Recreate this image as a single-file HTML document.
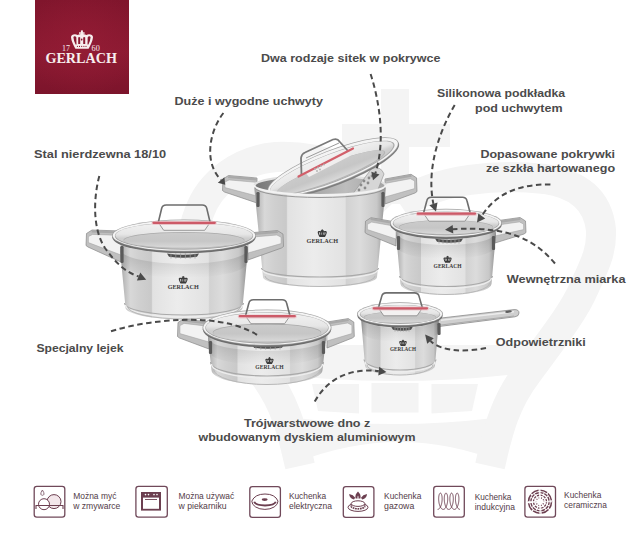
<!DOCTYPE html>
<html><head><meta charset="utf-8">
<style>
html,body{margin:0;padding:0;background:#fff;width:644px;height:540px;overflow:hidden}
svg{display:block}
.t{font-family:"Liberation Sans",sans-serif;font-weight:bold;font-size:11.5px;fill:#4b4b4b}
.s{font-family:"Liberation Sans",sans-serif;font-size:8.2px;fill:#523b47}
.lg{font-family:"Liberation Serif",serif;font-weight:bold;fill:#3a3a3a}
</style></head><body>
<svg width="644" height="540" viewBox="0 0 644 540">
<defs>
<linearGradient id="logoG" x1="0" y1="0" x2="0" y2="1">
<stop offset="0" stop-color="#80152c"/><stop offset="0.55" stop-color="#8c1a32"/><stop offset="1" stop-color="#7c142b"/>
</linearGradient>
<radialGradient id="logoR" cx="0.5" cy="0.45" r="0.6">
<stop offset="0" stop-color="#981d36" stop-opacity="0.6"/><stop offset="1" stop-color="#981d36" stop-opacity="0"/>
</radialGradient>
<linearGradient id="steel" x1="0" y1="0" x2="1" y2="0">
<stop offset="0" stop-color="#989898"/>
<stop offset="0.03" stop-color="#bababa"/>
<stop offset="0.08" stop-color="#d8d8d8"/>
<stop offset="0.15" stop-color="#d0d0d0"/>
<stop offset="0.245" stop-color="#c9c9c9"/>
<stop offset="0.255" stop-color="#e2e2e2"/>
<stop offset="0.45" stop-color="#ececec"/>
<stop offset="0.69" stop-color="#e2e2e2"/>
<stop offset="0.70" stop-color="#d2d2d2"/>
<stop offset="0.80" stop-color="#dcdcdc"/>
<stop offset="0.93" stop-color="#c8c8c8"/>
<stop offset="1" stop-color="#8e8e8e"/>
</linearGradient>
<linearGradient id="glass" x1="0" y1="0" x2="0" y2="1">
<stop offset="0" stop-color="#f2f2f2"/>
<stop offset="0.45" stop-color="#e6e6e6"/>
<stop offset="0.6" stop-color="#cfcfcf"/>
<stop offset="1" stop-color="#c4c4c4"/>
</linearGradient>
<linearGradient id="hnd" x1="0" y1="0" x2="0" y2="1">
<stop offset="0" stop-color="#d8d8d8"/>
<stop offset="0.5" stop-color="#eeeeee"/>
<stop offset="1" stop-color="#a8a8a8"/>
</linearGradient>
<linearGradient id="inner" x1="0" y1="0" x2="1" y2="0">
<stop offset="0" stop-color="#767676"/>
<stop offset="0.3" stop-color="#9a9a9a"/>
<stop offset="0.7" stop-color="#bdbdbd"/>
<stop offset="1" stop-color="#a4a4a4"/>
</linearGradient>
<linearGradient id="innerg" x1="0" y1="0" x2="0" y2="1">
<stop offset="0" stop-color="#cbcbcb"/><stop offset="0.55" stop-color="#c6c6c6"/><stop offset="1" stop-color="#d9d9d9"/>
</linearGradient>
<linearGradient id="topsh" x1="0" y1="0" x2="0" y2="1">
<stop offset="0" stop-color="#000" stop-opacity="0.16"/><stop offset="1" stop-color="#000" stop-opacity="0"/>
</linearGradient>
<marker id="ah" viewBox="0 0 10 10" refX="9" refY="5" markerWidth="4" markerHeight="4" orient="auto" markerUnits="strokeWidth">
<path d="M0,0 L10,5 L0,10 z" fill="#4a4a4a"/>
</marker>
</defs>
<rect width="644" height="540" fill="#fff"/>
<g fill="#f4f4f4">
<rect x="381" y="89" width="28" height="115"/>
<rect x="342" y="124" width="108" height="23"/>
<path d="M262,345 L528,345 L532,372 Q395,390 258,372 Z"/>
<path d="M312,384 L359,384 L359,413.5 L318,411 Z"/>
<path d="M371.5,383 L418.5,383 L418.5,412.5 L371.5,412.5 Z"/>
<path d="M431.5,384 L478,384 L472,411 L431.5,413.5 Z"/>
<path d="M296,418 Q395,430 494,418 L503,463 Q400,421 295,463 Z"/>
</g>
<g fill="none" stroke="#f4f4f4" stroke-linejoin="round">
<path d="M300,466 C292,430 285,402 262,372 C240,342 216,312 206,288 C194,262 188,240 199,213 C210,182 240,160 276,157 C322,155 362,172 392,204" stroke-width="30"/>
<path d="M490,466 C498,430 505,402 528,372 C550,342 574,312 584,288 C594,266 602,252 601,230 C598,200 578,184 545,179 C498,174 440,178 400,204" stroke-width="30"/>
</g>
<rect x="35" y="0" width="94" height="94" fill="url(#logoG)"/>
<rect x="35" y="0" width="94" height="94" fill="url(#logoR)"/>
<g fill="#f7eeee">
<text x="81.2" y="62.6" text-anchor="middle" font-family="Liberation Serif" font-weight="bold" font-size="14.2" textLength="71.5" lengthAdjust="spacingAndGlyphs">GERLACH</text>
<text x="62" y="50.6" font-family="Liberation Serif" font-size="7.6" textLength="8" lengthAdjust="spacingAndGlyphs">17</text>
<text x="91.6" y="50.6" font-family="Liberation Serif" font-size="7.6" textLength="8.2" lengthAdjust="spacingAndGlyphs">60</text>
<path d="M71,37.2 C70.8,34.6 75,33.6 77.6,35 C79.4,34 80.6,33.9 82,33.9 C83.4,33.9 84.6,34 86.4,35 C89,33.6 93.2,34.6 93,37.2 C92.8,41.2 90.2,45.4 88.6,48.8 L75.4,48.8 C73.8,45.4 71.2,41.2 71,37.2 Z"/>
<rect x="80.9" y="30.4" width="2" height="4.6"/><rect x="79" y="32.3" width="5.6" height="1.5"/>
<g fill="#8a1a33">
<path d="M73.4,37.2 Q73.8,36 75.2,36.3 L76.3,37.2 L76.5,44.6 L75.6,44.6 Q73.8,41 73.4,37.2 Z"/>
<path d="M78.2,44 L78.2,37.6 Q79.2,36.5 80.2,37.6 L80.2,44 Z"/>
<path d="M83.2,44 L83.2,37.6 Q84.2,36.5 85.2,37.6 L85.2,44 Z"/>
<path d="M90.6,37.2 Q90.2,36 88.8,36.3 L87.7,37.2 L87.5,44.6 L88.4,44.6 Q90.2,41 90.6,37.2 Z"/>
<ellipse cx="81.7" cy="39.6" rx="0.8" ry="1.1"/>
<circle cx="77.4" cy="46.4" r="0.55"/><circle cx="79.5" cy="46.4" r="0.55"/><circle cx="81.7" cy="46.4" r="0.55"/><circle cx="83.9" cy="46.4" r="0.55"/><circle cx="86" cy="46.4" r="0.55"/>
</g>
</g>
<path d="M257.0,178.0 L228.5,175.5 L223.0,179.0 L222.5,190.5 L224.5,192.0 L257.0,203.0 Z" fill="#c0c0c0" stroke="#888" stroke-width="0.7" stroke-linejoin="round"/><path d="M257.0,182.4 L229.1,179.9 L224.9,182.1 L224.9,187.6 L257.0,196.0 Z" fill="#f2f2f2" stroke="#9c9c9c" stroke-width="0.5" stroke-linejoin="round"/><path d="M257.0,178.4 L228.5,175.9 L227.9,177.9 L257.0,180.6 Z" fill="#a9a9a9"/><path d="M385.0,179.0 L411.0,174.3 L416.5,177.8 L417.0,191.5 L415.0,193.0 L385.0,204.0 Z" fill="#c0c0c0" stroke="#888" stroke-width="0.7" stroke-linejoin="round"/><path d="M385.0,183.4 L410.4,178.7 L414.6,180.9 L414.6,188.6 L385.0,197.0 Z" fill="#f2f2f2" stroke="#9c9c9c" stroke-width="0.5" stroke-linejoin="round"/><path d="M385.0,179.4 L411.0,174.7 L411.6,176.7 L385.0,181.6 Z" fill="#a9a9a9"/><ellipse cx="320" cy="185" rx="66.5" ry="10.5" fill="#e2e2e2"/><ellipse cx="320" cy="186" rx="64.5" ry="9.2" fill="url(#inner)"/><path d="M352,195 L372,168 Q381,166 384,174 L375,197 Z" fill="#d6d6d6" stroke="#999" stroke-width="0.7"/><circle cx="364" cy="181" r="1.4" fill="#8a8a8a"/><circle cx="368" cy="183" r="1.4" fill="#8a8a8a"/><circle cx="361" cy="185" r="1.4" fill="#8a8a8a"/><circle cx="365" cy="188" r="1.4" fill="#8a8a8a"/><circle cx="359" cy="190" r="1.4" fill="#8a8a8a"/><circle cx="369" cy="178" r="1.4" fill="#8a8a8a"/><circle cx="372" cy="176" r="1.4" fill="#8a8a8a"/><g transform="translate(333,167) rotate(-21)"><ellipse cx="0" cy="1.5" rx="70" ry="17" fill="#7e7e7e"/><ellipse cx="0" cy="0" rx="70" ry="17" fill="#a0a0a0"/><ellipse cx="0" cy="0" rx="69.2" ry="16.3" fill="#f4f4f4"/><ellipse cx="-1" cy="0.6" rx="66.5" ry="14.2" fill="#a8a8a8"/><ellipse cx="-1.5" cy="0.4" rx="65.8" ry="13.5" fill="url(#glass)"/><ellipse cx="-4" cy="4.5" rx="58" ry="9.5" fill="#b4b4b4"/><ellipse cx="-4" cy="4" rx="57" ry="8.8" fill="url(#innerg)"/></g><path d="M303,170 L344,150 L350,156 L309,177 Z" fill="#f0eeee"/><path d="M301.5,175 L301,158 Q301.5,154 305,152.5 L333,139.5 Q337.5,138 339.5,141.5 L348,151" fill="none" stroke="#7a7a7a" stroke-width="1.8"/><path d="M306,158 L339,143" fill="none" stroke="#9a9a9a" stroke-width="1"/><line x1="298.5" y1="176.5" x2="353" y2="148.5" stroke="#d2606b" stroke-width="2.2" stroke-linecap="round"/><circle cx="315" cy="169" r="0.9" fill="#b0b0b0"/><circle cx="318" cy="167.5" r="0.9" fill="#b0b0b0"/><circle cx="321" cy="166" r="0.9" fill="#b0b0b0"/><circle cx="324" cy="164.5" r="0.9" fill="#b0b0b0"/><circle cx="317" cy="171" r="0.9" fill="#b0b0b0"/><circle cx="320" cy="169.5" r="0.9" fill="#b0b0b0"/><path d="M254,185 L263,277 A57,10 0 0 0 377,277 L386,185 A66,10 0 0 1 254,185 Z" fill="url(#steel)"/><path d="M254,185 A66,10 0 0 0 386,185" fill="none" stroke="#f2f2f2" stroke-width="2.2"/><path d="M255,187.5 A65,10 0 0 0 385,187.5" fill="none" stroke="#8f8f8f" stroke-width="0.9"/><path d="M261.5,268 A58.5,9 0 0 0 378.5,268" fill="none" stroke="#a9a9a9" stroke-width="1.1"/><path d="M262.5,270 A57.5,9 0 0 0 377.5,270" fill="none" stroke="#ededed" stroke-width="1.4"/><path d="M265,276 A55,10.5 0 0 0 375,276" fill="none" stroke="#b8b8b8" stroke-width="1"/><rect x="256.4" y="192.0" width="3.2" height="15.0" fill="#5a5a5a" rx="1.2"/><rect x="381.4" y="192.0" width="3.2" height="15.0" fill="#5a5a5a" rx="1.2"/><g transform="translate(288.31,216.77) scale(0.414)"><path d="M71,37.2 C70.8,34.6 75,33.6 77.6,35 C79.4,34 80.6,33.9 82,33.9 C83.4,33.9 84.6,34 86.4,35 C89,33.6 93.2,34.6 93,37.2 C92.8,41.2 90.2,45.4 88.6,48.8 L75.4,48.8 C73.8,45.4 71.2,41.2 71,37.2 Z" fill="#3a3a3a"/><rect x="80.6" y="30.4" width="2.8" height="4.6" fill="#3a3a3a"/><rect x="78.6" y="32" width="6.8" height="2" fill="#3a3a3a"/><g fill="#dcdcdc"><path d="M74,38 L76.4,37.6 L76.6,44 L75.8,44 Q74.2,41 74,38 Z"/><path d="M78.6,43.5 L78.6,38 L80.2,38 L80.2,43.5 Z"/><path d="M83.6,43.5 L83.6,38 L85.2,38 L85.2,43.5 Z"/><path d="M90,38 L87.6,37.6 L87.4,44 L88.2,44 Q89.8,41 90,38 Z"/></g></g><text class="lg" x="322.3" y="242.5" text-anchor="middle" font-size="6.63" textLength="31.5" lengthAdjust="spacingAndGlyphs" fill="#3a3a3a">GERLACH</text><path d="M121.0,231.0 L92.0,230.0 L86.5,233.5 L86.0,245.5 L88.0,247.0 L121.0,262.0 Z" fill="#c0c0c0" stroke="#888" stroke-width="0.7" stroke-linejoin="round"/><path d="M121.0,235.4 L92.6,234.4 L88.4,236.6 L88.4,242.6 L121.0,255.0 Z" fill="#f2f2f2" stroke="#9c9c9c" stroke-width="0.5" stroke-linejoin="round"/><path d="M121.0,231.4 L92.0,230.4 L91.4,232.4 L121.0,233.6 Z" fill="#a9a9a9"/><path d="M248.0,233.0 L277.5,230.6 L283.0,234.1 L283.5,246.5 L281.5,248.0 L248.0,260.0 Z" fill="#c0c0c0" stroke="#888" stroke-width="0.7" stroke-linejoin="round"/><path d="M248.0,237.4 L276.9,235.0 L281.1,237.2 L281.1,243.6 L248.0,253.0 Z" fill="#f2f2f2" stroke="#9c9c9c" stroke-width="0.5" stroke-linejoin="round"/><path d="M248.0,233.4 L277.5,231.0 L278.1,233.0 L248.0,235.6 Z" fill="#a9a9a9"/><path d="M120,249 L125.5,307.5 A58.5,12 0 0 0 242.5,307.5 L248,249 A64,15 0 0 0 120,249 Z" fill="url(#steel)"/><path d="M120,249 A64,15 0 0 0 248,249 L246.7,263 A62.7,15 0 0 1 121.3,263 Z" fill="url(#topsh)"/><path d="M124.5,303 A59.5,12 0 0 0 243.5,303" fill="none" stroke="#a9a9a9" stroke-width="1.1"/><path d="M125.5,305 A58.5,12 0 0 0 242.5,305" fill="none" stroke="#ededed" stroke-width="1.4"/><path d="M127.5,306.5 A56.5,12.5 0 0 0 240.5,306.5" fill="none" stroke="#b8b8b8" stroke-width="1"/><rect x="120.4" y="246.0" width="3.2" height="17.0" fill="#5a5a5a" rx="1.2"/><rect x="244.4" y="246.0" width="3.2" height="17.0" fill="#5a5a5a" rx="1.2"/><path d="M167.0,253.5 Q183,256.0 199.0,253.5 L197.0,256.7 Q183,258.7 169.0,256.7 Z" fill="#4e4e4e"/><line x1="171.0" y1="253.5" x2="171.0" y2="258.5" stroke="#9a9a9a" stroke-width="0.8"/><line x1="175.8" y1="253.5" x2="175.8" y2="258.5" stroke="#9a9a9a" stroke-width="0.8"/><line x1="180.6" y1="253.5" x2="180.6" y2="258.5" stroke="#9a9a9a" stroke-width="0.8"/><line x1="185.4" y1="253.5" x2="185.4" y2="258.5" stroke="#9a9a9a" stroke-width="0.8"/><line x1="190.2" y1="253.5" x2="190.2" y2="258.5" stroke="#9a9a9a" stroke-width="0.8"/><line x1="195.0" y1="253.5" x2="195.0" y2="258.5" stroke="#9a9a9a" stroke-width="0.8"/><ellipse cx="184" cy="237.3" rx="71.7" ry="16" fill="#6e6e6e"/><ellipse cx="184" cy="235.5" rx="72" ry="16" fill="#a0a0a0"/><ellipse cx="184" cy="235.5" rx="71.2" ry="15.3" fill="#f5f5f5"/><ellipse cx="184" cy="235.9" rx="69.2" ry="13.8" fill="#a6a6a6"/><ellipse cx="184" cy="235.6" rx="68.6" ry="13.1" fill="url(#glass)"/><ellipse cx="184" cy="240.0" rx="60.5" ry="8.0" fill="#a9a9a9"/><ellipse cx="184" cy="240.3" rx="60.1" ry="7.5" fill="url(#innerg)"/><path d="M159.2,223.8 L163.7,230.3 L204.7,230.3 L209.2,223.8 Z" fill="#f3f1f1" stroke="#8e8e8e" stroke-width="0.9"/><path d="M158.2,222.8 L161.7,208.2 Q162.39999999999998,205 166.2,205 L202.2,205 Q206.0,205 206.7,208.2 L210.2,222.8" fill="none" stroke="#6e6e6e" stroke-width="1.6"/><line x1="153.5" y1="223.10000000000002" x2="214.8" y2="223.10000000000002" stroke="#ecbcc2" stroke-width="4" stroke-linecap="round" opacity="0.7"/><line x1="153.5" y1="222.8" x2="214.8" y2="222.8" stroke="#cd5a68" stroke-width="2.2" stroke-linecap="round"/><g transform="translate(149.75,263.68) scale(0.408)"><path d="M71,37.2 C70.8,34.6 75,33.6 77.6,35 C79.4,34 80.6,33.9 82,33.9 C83.4,33.9 84.6,34 86.4,35 C89,33.6 93.2,34.6 93,37.2 C92.8,41.2 90.2,45.4 88.6,48.8 L75.4,48.8 C73.8,45.4 71.2,41.2 71,37.2 Z" fill="#3a3a3a"/><rect x="80.6" y="30.4" width="2.8" height="4.6" fill="#3a3a3a"/><rect x="78.6" y="32" width="6.8" height="2" fill="#3a3a3a"/><g fill="#dcdcdc"><path d="M74,38 L76.4,37.6 L76.6,44 L75.8,44 Q74.2,41 74,38 Z"/><path d="M78.6,43.5 L78.6,38 L80.2,38 L80.2,43.5 Z"/><path d="M83.6,43.5 L83.6,38 L85.2,38 L85.2,43.5 Z"/><path d="M90,38 L87.6,37.6 L87.4,44 L88.2,44 Q89.8,41 90,38 Z"/></g></g><text class="lg" x="183.2" y="289" text-anchor="middle" font-size="6.53" textLength="31" lengthAdjust="spacingAndGlyphs" fill="#3a3a3a">GERLACH</text><path d="M396.0,222.0 L371.0,217.7 L365.5,221.2 L365.0,232.5 L367.0,234.0 L396.0,246.0 Z" fill="#c0c0c0" stroke="#888" stroke-width="0.7" stroke-linejoin="round"/><path d="M396.0,226.4 L371.6,222.1 L367.4,224.3 L367.4,229.6 L396.0,239.0 Z" fill="#f2f2f2" stroke="#9c9c9c" stroke-width="0.5" stroke-linejoin="round"/><path d="M396.0,222.4 L371.0,218.1 L370.4,220.1 L396.0,224.6 Z" fill="#a9a9a9"/><path d="M495.0,221.0 L520.0,217.5 L525.5,221.0 L526.0,232.5 L524.0,234.0 L495.0,243.0 Z" fill="#c0c0c0" stroke="#888" stroke-width="0.7" stroke-linejoin="round"/><path d="M495.0,225.4 L519.4,221.9 L523.6,224.1 L523.6,229.6 L495.0,236.0 Z" fill="#f2f2f2" stroke="#9c9c9c" stroke-width="0.5" stroke-linejoin="round"/><path d="M495.0,221.4 L520.0,217.9 L520.6,219.9 L495.0,223.6 Z" fill="#a9a9a9"/><path d="M396,233 L400.5,284 A45.5,11 0 0 0 491.5,284 L496,233 A50,12 0 0 0 396,233 Z" fill="url(#steel)"/><path d="M396,233 A50,12 0 0 0 496,233 L494.8,247 A48.8,12 0 0 1 397.2,247 Z" fill="url(#topsh)"/><path d="M399.5,276 A46.5,10.5 0 0 0 492.5,276" fill="none" stroke="#a9a9a9" stroke-width="1.1"/><path d="M400.5,278 A45.5,10.5 0 0 0 491.5,278" fill="none" stroke="#ededed" stroke-width="1.4"/><path d="M402.5,283 A43.5,11.5 0 0 0 489.5,283" fill="none" stroke="#b8b8b8" stroke-width="1"/><rect x="396.9" y="236.0" width="3.2" height="14.0" fill="#5a5a5a" rx="1.2"/><rect x="491.9" y="236.0" width="3.2" height="14.0" fill="#5a5a5a" rx="1.2"/><path d="M435.0,238.5 Q449,241.0 463.0,238.5 L461.0,241.7 Q449,243.7 437.0,241.7 Z" fill="#4e4e4e"/><line x1="439.0" y1="238.5" x2="439.0" y2="243.5" stroke="#9a9a9a" stroke-width="0.8"/><line x1="443.0" y1="238.5" x2="443.0" y2="243.5" stroke="#9a9a9a" stroke-width="0.8"/><line x1="447.0" y1="238.5" x2="447.0" y2="243.5" stroke="#9a9a9a" stroke-width="0.8"/><line x1="451.0" y1="238.5" x2="451.0" y2="243.5" stroke="#9a9a9a" stroke-width="0.8"/><line x1="455.0" y1="238.5" x2="455.0" y2="243.5" stroke="#9a9a9a" stroke-width="0.8"/><line x1="459.0" y1="238.5" x2="459.0" y2="243.5" stroke="#9a9a9a" stroke-width="0.8"/><ellipse cx="446" cy="224.8" rx="55.7" ry="14.2" fill="#6e6e6e"/><ellipse cx="446" cy="223" rx="56" ry="14.2" fill="#a0a0a0"/><ellipse cx="446" cy="223" rx="55.2" ry="13.5" fill="#f5f5f5"/><ellipse cx="446" cy="223.4" rx="53.2" ry="12.0" fill="#a6a6a6"/><ellipse cx="446" cy="223.1" rx="52.6" ry="11.3" fill="url(#glass)"/><ellipse cx="446" cy="227.0" rx="47.0" ry="7.1" fill="#a9a9a9"/><ellipse cx="446" cy="227.3" rx="46.8" ry="6.7" fill="url(#innerg)"/><path d="M424.4,214.7 L428.9,221.2 L464.9,221.2 L469.4,214.7 Z" fill="#f3f1f1" stroke="#8e8e8e" stroke-width="0.9"/><path d="M423.4,213.7 L426.9,200.5 Q427.59999999999997,197.3 431.4,197.3 L462.4,197.3 Q466.2,197.3 466.9,200.5 L470.4,213.7" fill="none" stroke="#6e6e6e" stroke-width="1.6"/><line x1="417.8" y1="214.0" x2="475" y2="214.0" stroke="#ecbcc2" stroke-width="4" stroke-linecap="round" opacity="0.7"/><line x1="417.8" y1="213.7" x2="475" y2="213.7" stroke="#cd5a68" stroke-width="2.2" stroke-linecap="round"/><g transform="translate(417.39,244.73) scale(0.368)"><path d="M71,37.2 C70.8,34.6 75,33.6 77.6,35 C79.4,34 80.6,33.9 82,33.9 C83.4,33.9 84.6,34 86.4,35 C89,33.6 93.2,34.6 93,37.2 C92.8,41.2 90.2,45.4 88.6,48.8 L75.4,48.8 C73.8,45.4 71.2,41.2 71,37.2 Z" fill="#3a3a3a"/><rect x="80.6" y="30.4" width="2.8" height="4.6" fill="#3a3a3a"/><rect x="78.6" y="32" width="6.8" height="2" fill="#3a3a3a"/><g fill="#dcdcdc"><path d="M74,38 L76.4,37.6 L76.6,44 L75.8,44 Q74.2,41 74,38 Z"/><path d="M78.6,43.5 L78.6,38 L80.2,38 L80.2,43.5 Z"/><path d="M83.6,43.5 L83.6,38 L85.2,38 L85.2,43.5 Z"/><path d="M90,38 L87.6,37.6 L87.4,44 L88.2,44 Q89.8,41 90,38 Z"/></g></g><text class="lg" x="447.6" y="267.6" text-anchor="middle" font-size="5.89" textLength="28" lengthAdjust="spacingAndGlyphs" fill="#3a3a3a">GERLACH</text><path d="M209.0,322.0 L183.5,319.0 L178.0,322.5 L177.5,336.5 L179.5,338.0 L209.0,349.0 Z" fill="#c0c0c0" stroke="#888" stroke-width="0.7" stroke-linejoin="round"/><path d="M209.0,326.4 L184.1,323.4 L179.9,325.6 L179.9,333.6 L209.0,342.0 Z" fill="#f2f2f2" stroke="#9c9c9c" stroke-width="0.5" stroke-linejoin="round"/><path d="M209.0,322.4 L183.5,319.4 L182.9,321.4 L209.0,324.6 Z" fill="#a9a9a9"/><path d="M327.0,322.0 L348.3,318.6 L353.8,322.1 L354.3,336.5 L352.3,338.0 L327.0,348.0 Z" fill="#c0c0c0" stroke="#888" stroke-width="0.7" stroke-linejoin="round"/><path d="M327.0,326.4 L347.7,323.0 L351.9,325.2 L351.9,333.6 L327.0,341.0 Z" fill="#f2f2f2" stroke="#9c9c9c" stroke-width="0.5" stroke-linejoin="round"/><path d="M327.0,322.4 L348.3,319.0 L348.9,321.0 L327.0,324.6 Z" fill="#a9a9a9"/><path d="M208,338 L211.5,370 A55.5,15 0 0 0 322.5,370 L326,338 A59,13 0 0 0 208,338 Z" fill="url(#steel)"/><path d="M208,338 A59,13 0 0 0 326,338 L324.5,352 A57.5,13 0 0 1 209.5,352 Z" fill="url(#topsh)"/><path d="M210.5,362 A56.5,14 0 0 0 323.5,362" fill="none" stroke="#a9a9a9" stroke-width="1.1"/><path d="M211.5,364 A55.5,14 0 0 0 322.5,364" fill="none" stroke="#ededed" stroke-width="1.4"/><path d="M213.5,369 A53.5,15.5 0 0 0 320.5,369" fill="none" stroke="#b8b8b8" stroke-width="1"/><rect x="208.9" y="341.0" width="3.2" height="13.0" fill="#5a5a5a" rx="1.2"/><rect x="321.9" y="341.0" width="3.2" height="13.0" fill="#5a5a5a" rx="1.2"/><path d="M252.0,344.5 Q268,347.0 284.0,344.5 L282.0,347.7 Q268,349.7 254.0,347.7 Z" fill="#4e4e4e"/><line x1="256.0" y1="344.5" x2="256.0" y2="349.5" stroke="#9a9a9a" stroke-width="0.8"/><line x1="260.8" y1="344.5" x2="260.8" y2="349.5" stroke="#9a9a9a" stroke-width="0.8"/><line x1="265.6" y1="344.5" x2="265.6" y2="349.5" stroke="#9a9a9a" stroke-width="0.8"/><line x1="270.4" y1="344.5" x2="270.4" y2="349.5" stroke="#9a9a9a" stroke-width="0.8"/><line x1="275.2" y1="344.5" x2="275.2" y2="349.5" stroke="#9a9a9a" stroke-width="0.8"/><line x1="280.0" y1="344.5" x2="280.0" y2="349.5" stroke="#9a9a9a" stroke-width="0.8"/><ellipse cx="267" cy="329.3" rx="64.2" ry="18" fill="#6e6e6e"/><ellipse cx="267" cy="327.5" rx="64.5" ry="18" fill="#a0a0a0"/><ellipse cx="267" cy="327.5" rx="63.7" ry="17.3" fill="#f5f5f5"/><ellipse cx="267" cy="327.9" rx="61.7" ry="15.8" fill="#a6a6a6"/><ellipse cx="267" cy="327.6" rx="61.1" ry="15.1" fill="url(#glass)"/><ellipse cx="267" cy="332.5" rx="54.2" ry="9.0" fill="#a9a9a9"/><ellipse cx="267" cy="332.9" rx="53.9" ry="8.5" fill="url(#innerg)"/><path d="M246.4,317.2 L250.9,323.7 L284.6,323.7 L289.1,317.2 Z" fill="#f3f1f1" stroke="#8e8e8e" stroke-width="0.9"/><path d="M245.4,316.2 L248.9,303.0 Q249.6,299.8 253.4,299.8 L282.1,299.8 Q285.90000000000003,299.8 286.6,303.0 L290.1,316.2" fill="none" stroke="#6e6e6e" stroke-width="1.6"/><line x1="239.8" y1="316.5" x2="294.8" y2="316.5" stroke="#ecbcc2" stroke-width="4" stroke-linecap="round" opacity="0.7"/><line x1="239.8" y1="316.2" x2="294.8" y2="316.2" stroke="#cd5a68" stroke-width="2.2" stroke-linecap="round"/><g transform="translate(238.97,345.88) scale(0.372)"><path d="M71,37.2 C70.8,34.6 75,33.6 77.6,35 C79.4,34 80.6,33.9 82,33.9 C83.4,33.9 84.6,34 86.4,35 C89,33.6 93.2,34.6 93,37.2 C92.8,41.2 90.2,45.4 88.6,48.8 L75.4,48.8 C73.8,45.4 71.2,41.2 71,37.2 Z" fill="#3a3a3a"/><rect x="80.6" y="30.4" width="2.8" height="4.6" fill="#3a3a3a"/><rect x="78.6" y="32" width="6.8" height="2" fill="#3a3a3a"/><g fill="#dcdcdc"><path d="M74,38 L76.4,37.6 L76.6,44 L75.8,44 Q74.2,41 74,38 Z"/><path d="M78.6,43.5 L78.6,38 L80.2,38 L80.2,43.5 Z"/><path d="M83.6,43.5 L83.6,38 L85.2,38 L85.2,43.5 Z"/><path d="M90,38 L87.6,37.6 L87.4,44 L88.2,44 Q89.8,41 90,38 Z"/></g></g><text class="lg" x="269.5" y="369" text-anchor="middle" font-size="5.96" textLength="28.3" lengthAdjust="spacingAndGlyphs" fill="#3a3a3a">GERLACH</text><path d="M437,318.5 L514,309.6 Q519,309.3 519,313 Q519,316.2 515,316.8 L439,326.5 Z" fill="#cfcfcf" stroke="#8c8c8c" stroke-width="0.8"/><path d="M441,320.2 L514,311.8" stroke="#ececec" stroke-width="1.6"/><path d="M441,325 L514,316" stroke="#aaaaaa" stroke-width="1"/><ellipse cx="508.5" cy="311.6" rx="3.4" ry="1.2" fill="#5e5e5e" transform="rotate(-7 508.5 311.6)"/><path d="M361,318 L365,365.5 A35,10 0 0 0 435,365.5 L439,318 A39,10 0 0 0 361,318 Z" fill="url(#steel)"/><path d="M361,318 A39,10 0 0 0 439,318 L437.8,332 A37.8,10 0 0 1 362.2,332 Z" fill="url(#topsh)"/><path d="M364,359.5 A36,10.5 0 0 0 436,359.5" fill="none" stroke="#a9a9a9" stroke-width="1.1"/><path d="M365,361.5 A35,10.5 0 0 0 435,361.5" fill="none" stroke="#ededed" stroke-width="1.4"/><path d="M367,364.5 A33,10.5 0 0 0 433,364.5" fill="none" stroke="#b8b8b8" stroke-width="1"/><rect x="437.4" y="323.0" width="3.2" height="12.0" fill="#5a5a5a" rx="1.2"/><path d="M391.0,326.5 Q402,329.0 413.0,326.5 L411.0,329.7 Q402,331.7 393.0,329.7 Z" fill="#4e4e4e"/><line x1="395.0" y1="326.5" x2="395.0" y2="331.5" stroke="#9a9a9a" stroke-width="0.8"/><line x1="397.8" y1="326.5" x2="397.8" y2="331.5" stroke="#9a9a9a" stroke-width="0.8"/><line x1="400.6" y1="326.5" x2="400.6" y2="331.5" stroke="#9a9a9a" stroke-width="0.8"/><line x1="403.4" y1="326.5" x2="403.4" y2="331.5" stroke="#9a9a9a" stroke-width="0.8"/><line x1="406.2" y1="326.5" x2="406.2" y2="331.5" stroke="#9a9a9a" stroke-width="0.8"/><line x1="409.0" y1="326.5" x2="409.0" y2="331.5" stroke="#9a9a9a" stroke-width="0.8"/><ellipse cx="400" cy="315.8" rx="42.7" ry="11.7" fill="#6e6e6e"/><ellipse cx="400" cy="314" rx="43" ry="11.7" fill="#a0a0a0"/><ellipse cx="400" cy="314" rx="42.2" ry="11.0" fill="#f5f5f5"/><ellipse cx="400" cy="314.4" rx="40.2" ry="9.5" fill="#a6a6a6"/><ellipse cx="400" cy="314.1" rx="39.6" ry="8.8" fill="url(#glass)"/><ellipse cx="400" cy="317.3" rx="36.1" ry="5.8" fill="#a9a9a9"/><ellipse cx="400" cy="317.5" rx="35.9" ry="5.5" fill="url(#innerg)"/><path d="M379.3,309.3 L383.8,315.8 L417.0,315.8 L421.5,309.3 Z" fill="#f3f1f1" stroke="#8e8e8e" stroke-width="0.9"/><path d="M378.3,308.3 L381.8,296.09999999999997 Q382.5,292.9 386.3,292.9 L414.5,292.9 Q418.3,292.9 419.0,296.09999999999997 L422.5,308.3" fill="none" stroke="#6e6e6e" stroke-width="1.6"/><line x1="373.8" y1="308.6" x2="427" y2="308.6" stroke="#ecbcc2" stroke-width="4" stroke-linecap="round" opacity="0.7"/><line x1="373.8" y1="308.3" x2="427" y2="308.3" stroke="#cd5a68" stroke-width="2.2" stroke-linecap="round"/><g transform="translate(374.95,329.36) scale(0.342)"><path d="M71,37.2 C70.8,34.6 75,33.6 77.6,35 C79.4,34 80.6,33.9 82,33.9 C83.4,33.9 84.6,34 86.4,35 C89,33.6 93.2,34.6 93,37.2 C92.8,41.2 90.2,45.4 88.6,48.8 L75.4,48.8 C73.8,45.4 71.2,41.2 71,37.2 Z" fill="#3a3a3a"/><rect x="80.6" y="30.4" width="2.8" height="4.6" fill="#3a3a3a"/><rect x="78.6" y="32" width="6.8" height="2" fill="#3a3a3a"/><g fill="#dcdcdc"><path d="M74,38 L76.4,37.6 L76.6,44 L75.8,44 Q74.2,41 74,38 Z"/><path d="M78.6,43.5 L78.6,38 L80.2,38 L80.2,43.5 Z"/><path d="M83.6,43.5 L83.6,38 L85.2,38 L85.2,43.5 Z"/><path d="M90,38 L87.6,37.6 L87.4,44 L88.2,44 Q89.8,41 90,38 Z"/></g></g><text class="lg" x="403" y="350.6" text-anchor="middle" font-size="5.47" textLength="26" lengthAdjust="spacingAndGlyphs" fill="#3a3a3a">GERLACH</text><path d="M370.6,74 C379,100 386,140 375.4,173.2" fill="none" stroke="#4a4a4a" stroke-width="2" stroke-dasharray="5.5,3.5"/><path d="M373.0,180.2 L371.3,171.8 L379.5,174.6 Z" fill="#4a4a4a"/><path d="M223.4,113 C210,130 203,162 221.1,180" fill="none" stroke="#4a4a4a" stroke-width="2" stroke-dasharray="5.5,3.5"/><path d="M225.2,184.8 L217.8,182.8 L224.4,177.2 Z" fill="#4a4a4a"/><path d="M454.7,105 C440,130 426,168 433.4,203.9" fill="none" stroke="#4a4a4a" stroke-width="2" stroke-dasharray="5.5,3.5"/><path d="M436.0,211.6 L429.3,205.3 L437.5,202.5 Z" fill="#4a4a4a"/><path d="M550.4,184.5 C525,184 498,190 481.75,216" fill="none" stroke="#4a4a4a" stroke-width="2" stroke-dasharray="5.5,3.5"/><path d="M477.0,222.6 L478.3,213.5 L485.2,218.5 Z" fill="#4a4a4a"/><path d="M555,263.5 C535,240 510,226 453,229.2" fill="none" stroke="#4a4a4a" stroke-width="2" stroke-dasharray="5.5,3.5"/><path d="M445.0,229.7 L452.7,224.9 L453.3,233.5 Z" fill="#4a4a4a"/><path d="M99.3,176 C93,200 93,230 105,248 C115,262 125,272 138.6,276.5" fill="none" stroke="#4a4a4a" stroke-width="2" stroke-dasharray="5.5,3.5"/><path d="M146.2,279.7 L136.9,280.5 L140.3,272.5 Z" fill="#4a4a4a"/><path d="M486,348 C466,352 442,352 430.5,341" fill="none" stroke="#4a4a4a" stroke-width="2" stroke-dasharray="5.5,3.5"/><path d="M425.1,334.5 L433.8,338.3 L427.2,343.7 Z" fill="#4a4a4a"/><path d="M314.7,401.6 C328,378 350,368 378.75,371.1" fill="none" stroke="#4a4a4a" stroke-width="2" stroke-dasharray="5.5,3.5"/><path d="M386.4,371.9 L378.3,375.4 L379.2,366.8 Z" fill="#4a4a4a"/><path d="M111,331.3 C140,322 175,319 200,320 C225,321 245,327 259,336" fill="none" stroke="#4a4a4a" stroke-width="2" stroke-dasharray="5.5,3.5"/><g class="t">
<text x="261" y="61.5" textLength="179.5" lengthAdjust="spacingAndGlyphs">Dwa rodzaje sitek w pokrywce</text>
<text x="174.5" y="105" textLength="148.5" lengthAdjust="spacingAndGlyphs">Duże i wygodne uchwyty</text>
<text x="437" y="97.4" textLength="128.1" lengthAdjust="spacingAndGlyphs">Silikonowa podkładka</text>
<text x="475" y="112.3" textLength="87.5" lengthAdjust="spacingAndGlyphs">pod uchwytem</text>
<text x="34" y="157.6" textLength="132.1" lengthAdjust="spacingAndGlyphs">Stal nierdzewna 18/10</text>
<text x="480.4" y="157.9" textLength="134.7" lengthAdjust="spacingAndGlyphs">Dopasowane pokrywki</text>
<text x="486" y="171.8" textLength="129.1" lengthAdjust="spacingAndGlyphs">ze szkła hartowanego</text>
<text x="506.8" y="283.2" textLength="118.7" lengthAdjust="spacingAndGlyphs">Wewnętrzna miarka</text>
<text x="36.4" y="351.8" textLength="87.1" lengthAdjust="spacingAndGlyphs">Specjalny lejek</text>
<text x="495.8" y="346.2" textLength="90" lengthAdjust="spacingAndGlyphs">Odpowietrzniki</text>
<text x="244" y="426.5" textLength="126.3" lengthAdjust="spacingAndGlyphs">Trójwarstwowe dno z</text>
<text x="198.5" y="440.7" textLength="217" lengthAdjust="spacingAndGlyphs">wbudowanym dyskiem aluminiowym</text>
</g>
<g class="s">
<text x="73.2" y="498.9" textLength="43.2" lengthAdjust="spacingAndGlyphs">Można myć</text>
<text x="73.2" y="508.7" textLength="47.2" lengthAdjust="spacingAndGlyphs">w zmywarce</text>
<text x="178.5" y="498.9" textLength="55.7" lengthAdjust="spacingAndGlyphs">Można używać</text>
<text x="178.5" y="508.7" textLength="48.2" lengthAdjust="spacingAndGlyphs">w piekarniku</text>
<text x="288.9" y="498.9" textLength="37.2" lengthAdjust="spacingAndGlyphs">Kuchenka</text>
<text x="288.9" y="508.7" textLength="43.2" lengthAdjust="spacingAndGlyphs">elektryczna</text>
<text x="384.1" y="498.9" textLength="37.2" lengthAdjust="spacingAndGlyphs">Kuchenka</text>
<text x="384.1" y="508.7" textLength="30.2" lengthAdjust="spacingAndGlyphs">gazowa</text>
<text x="474.7" y="499.7" textLength="36.7" lengthAdjust="spacingAndGlyphs">Kuchenka</text>
<text x="474.7" y="509.5" textLength="40.2" lengthAdjust="spacingAndGlyphs">indukcyjna</text>
<text x="564.1" y="498.4" textLength="37.2" lengthAdjust="spacingAndGlyphs">Kuchenka</text>
<text x="564.1" y="508.3" textLength="42.8" lengthAdjust="spacingAndGlyphs">ceramiczna</text>
</g>
<g fill="none" stroke="#70495a" stroke-width="1.3"><rect x="34.2" y="486.3" width="30.6" height="30.8" rx="2.6"/><rect x="135.9" y="486.3" width="31.4" height="30.8" rx="2.6"/><rect x="249.8" y="486.6" width="30.6" height="30.8" rx="2.6"/><rect x="343.3" y="486.6" width="30.6" height="30.8" rx="2.6"/><rect x="433.7" y="486.3" width="30.6" height="30.8" rx="2.6"/><rect x="524.9" y="486.3" width="30.6" height="30.8" rx="2.6"/></g><g fill="none" stroke="#6c3f50" stroke-width="1.0"><path d="M42.4,490 Q40.5,493 40.8,494.2 A1.7,1.7 0 0 0 44,494.2 Q44.3,493 42.4,490 Z" stroke="#8a6a78"/><circle cx="54" cy="501.6" r="7" fill="#f3e6ea"/><circle cx="44" cy="504.2" r="5.5" fill="#fff"/><path d="M36,509 L36,505.5 L63,505.5 L63,509" stroke-width="1.1"/></g><rect x="141" y="492" width="20" height="18.6" fill="#6c3f50"/><rect x="143" y="497.6" width="16" height="11.2" fill="#fff"/><line x1="145" y1="499.5" x2="157" y2="499.5" stroke="#6c3f50" stroke-width="0.9"/><circle cx="145.5" cy="494.6" r="0.8" fill="#fff"/><circle cx="148.5" cy="494.6" r="0.8" fill="#fff"/><circle cx="154" cy="494.6" r="0.8" fill="#fff"/><circle cx="157" cy="494.6" r="0.8" fill="#fff"/><g fill="none" stroke="#6c3f50"><path d="M251.8,501.1 Q255,494 265,494 Q275,494 278,501.1 A13.1,8.3 0 0 1 251.8,501.1 Z" stroke-width="1"/><path d="M254.2,501.8 A10.9,4.2 0 0 0 275.8,501.8" stroke-width="1.9"/><ellipse cx="264.7" cy="499.6" rx="3" ry="1.4" fill="#6c3f50" stroke="none"/></g><g fill="#6c3f50"><path d="M358,491.6 Q354.6,494.8 355.6,498.6 L360.4,498.6 Q361.4,494.8 358,491.6 Z M358,495.6 Q357.1,497.2 357.6,498.6 L358.4,498.6 Q358.9,497.2 358,495.6 Z" fill-rule="evenodd"/><path d="M349.2,494 Q349.4,498.4 354,499.6 L355.2,497.8 Q353.4,494.8 349.2,494 Z"/><path d="M367,494 Q366.8,498.4 362.2,499.6 L361,497.8 Q362.8,494.8 367,494 Z"/></g><g stroke="#6c3f50" stroke-width="1"><ellipse cx="358" cy="507.3" rx="10" ry="4.1" fill="none"/><path d="M351.2,503.6 L351.2,506.2 A6.8,2.6 0 0 0 364.8,506.2 L364.8,503.6 Z" fill="#fff" stroke="none"/><path d="M351.2,503.6 L351.2,506.2 M364.8,503.6 L364.8,506.2" fill="none"/><ellipse cx="358" cy="503.6" rx="6.8" ry="2.8" fill="#fff"/><path d="M351.2,506.2 A6.8,2.6 0 0 0 364.8,506.2" fill="none" stroke-width="1.7" stroke-dasharray="1.7,0.7"/></g><polyline points="437.60,509.40 437.91,509.37 438.21,509.30 438.51,509.17 438.81,509.00 439.10,508.78 439.39,508.51 439.66,508.20 439.93,507.84 440.18,507.45 440.42,507.01 440.65,506.54 440.87,506.04 441.07,505.51 441.26,504.95 441.42,504.37 441.58,503.77 441.71,503.15 441.83,502.52 441.92,501.89 442.00,501.25 442.06,500.61 442.10,499.98 442.13,499.35 442.13,498.73 442.12,498.13 442.09,497.55 442.05,496.99 441.99,496.46 441.91,495.96 441.82,495.49 441.72,495.05 441.60,494.66 441.48,494.30 441.34,493.99 441.20,493.72 441.05,493.50 440.89,493.33 440.73,493.20 440.57,493.13 440.40,493.10 440.23,493.13 440.07,493.20 439.91,493.33 439.75,493.50 439.60,493.72 439.46,493.99 439.32,494.30 439.20,494.66 439.08,495.05 438.98,495.49 438.89,495.96 438.81,496.46 438.75,496.99 438.71,497.55 438.68,498.13 438.67,498.73 438.67,499.35 438.70,499.98 438.74,500.61 438.80,501.25 438.88,501.89 438.97,502.52 439.09,503.15 439.22,503.77 439.38,504.37 439.54,504.95 439.73,505.51 439.93,506.04 440.15,506.54 440.38,507.01 440.62,507.45 440.87,507.84 441.14,508.20 441.41,508.51 441.70,508.78 441.99,509.00 442.29,509.17 442.59,509.30 442.89,509.37 443.20,509.40 443.50,509.37 443.81,509.30 444.11,509.17 444.40,509.00 444.69,508.78 444.98,508.51 445.25,508.20 445.52,507.84 445.77,507.45 446.02,507.01 446.25,506.54 446.46,506.04 446.66,505.51 446.85,504.95 447.02,504.37 447.17,503.77 447.30,503.15 447.42,502.52 447.51,501.89 447.59,501.25 447.65,500.61 447.70,499.98 447.72,499.35 447.73,498.73 447.72,498.13 447.69,497.55 447.64,496.99 447.58,496.46 447.50,495.96 447.41,495.49 447.31,495.05 447.20,494.66 447.07,494.30 446.93,493.99 446.79,493.72 446.64,493.50 446.48,493.33 446.32,493.20 446.16,493.13 445.99,493.10 445.83,493.13 445.66,493.20 445.50,493.33 445.34,493.50 445.19,493.72 445.05,493.99 444.91,494.30 444.79,494.66 444.67,495.05 444.57,495.49 444.48,495.96 444.40,496.46 444.34,496.99 444.30,497.55 444.27,498.13 444.26,498.73 444.26,499.35 444.29,499.98 444.33,500.61 444.39,501.25 444.47,501.89 444.57,502.52 444.68,503.15 444.82,503.77 444.97,504.37 445.14,504.95 445.32,505.51 445.52,506.04 445.74,506.54 445.97,507.01 446.21,507.45 446.47,507.84 446.73,508.20 447.01,508.51 447.29,508.78 447.58,509.00 447.88,509.17 448.18,509.30 448.48,509.37 448.79,509.40 449.09,509.37 449.40,509.30 449.70,509.17 449.99,509.00 450.29,508.78 450.57,508.51 450.84,508.20 451.11,507.84 451.37,507.45 451.61,507.01 451.84,506.54 452.05,506.04 452.25,505.51 452.44,504.95 452.61,504.37 452.76,503.77 452.89,503.15 453.01,502.52 453.11,501.89 453.19,501.25 453.25,500.61 453.29,499.98 453.31,499.35 453.32,498.73 453.31,498.13 453.28,497.55 453.23,496.99 453.17,496.46 453.10,495.96 453.01,495.49 452.90,495.05 452.79,494.66 452.66,494.30 452.53,493.99 452.38,493.72 452.23,493.50 452.07,493.33 451.91,493.20 451.75,493.13 451.58,493.10 451.42,493.13 451.25,493.20 451.09,493.33 450.94,493.50 450.79,493.72 450.64,493.99 450.51,494.30 450.38,494.66 450.26,495.05 450.16,495.49 450.07,495.96 450.00,496.46 449.93,496.99 449.89,497.55 449.86,498.13 449.85,498.73 449.86,499.35 449.88,499.98 449.92,500.61 449.98,501.25 450.06,501.89 450.16,502.52 450.27,503.15 450.41,503.77 450.56,504.37 450.73,504.95 450.91,505.51 451.11,506.04 451.33,506.54 451.56,507.01 451.80,507.45 452.06,507.84 452.32,508.20 452.60,508.51 452.88,508.78 453.17,509.00 453.47,509.17 453.77,509.30 454.07,509.37 454.38,509.40 454.69,509.37 454.99,509.30 455.29,509.17 455.59,509.00 455.88,508.78 456.16,508.51 456.44,508.20 456.70,507.84 456.96,507.45 457.20,507.01 457.43,506.54 457.65,506.04 457.85,505.51 458.03,504.95 458.20,504.37 458.35,503.77 458.49,503.15 458.60,502.52 458.70,501.89 458.78,501.25 458.84,500.61 458.88,499.98 458.90,499.35 458.91,498.73 458.90,498.13 458.87,497.55 458.83,496.99 458.76,496.46 458.69,495.96 458.60,495.49 458.50,495.05 458.38,494.66 458.25,494.30 458.12,493.99 457.97,493.72 457.82,493.50 457.67,493.33 457.51,493.20 457.34,493.13 457.18,493.10 457.01,493.13 456.85,493.20 456.69,493.33 456.53,493.50 456.38,493.72 456.23,493.99 456.10,494.30 455.97,494.66 455.86,495.05 455.75,495.49 455.66,495.96 455.59,496.46 455.53,496.99 455.48,497.55 455.45,498.13 455.44,498.73 455.45,499.35 455.47,499.98 455.51,500.61 455.57,501.25 455.65,501.89 455.75,502.52 455.87,503.15 456.00,503.77 456.15,504.37 456.32,504.95 456.51,505.51 456.71,506.04 456.92,506.54 457.15,507.01 457.39,507.45 457.65,507.84 457.92,508.20 458.19,508.51 458.47,508.78 458.77,509.00 459.06,509.17 459.36,509.30 459.67,509.37 459.97,509.40" fill="none" stroke="#6c3f50" stroke-width="0.95"/><g fill="none" stroke="#6c3f50" transform="translate(540,501.7)"><circle cx="0" cy="0" r="11.5" stroke-width="1.5" stroke-dasharray="7.83,1.20" transform="rotate(-2.99)"/><circle cx="0" cy="0" r="9.1" stroke-width="1.4" stroke-dasharray="3.76,1.00" transform="rotate(-3.15)"/><circle cx="0" cy="0" r="6.5" stroke-width="1.3" stroke-dasharray="2.40,1.00" transform="rotate(-4.41)"/><circle cx="0" cy="0" r="3.9" stroke-width="1.3" stroke-dasharray="1.00,1.45" transform="rotate(-10.65)"/></g><path d="M540,489 L540,514.5 M527.5,501.7 L552.5,501.7" stroke="#fff" stroke-width="1.1"/>
</svg>
</body></html>
